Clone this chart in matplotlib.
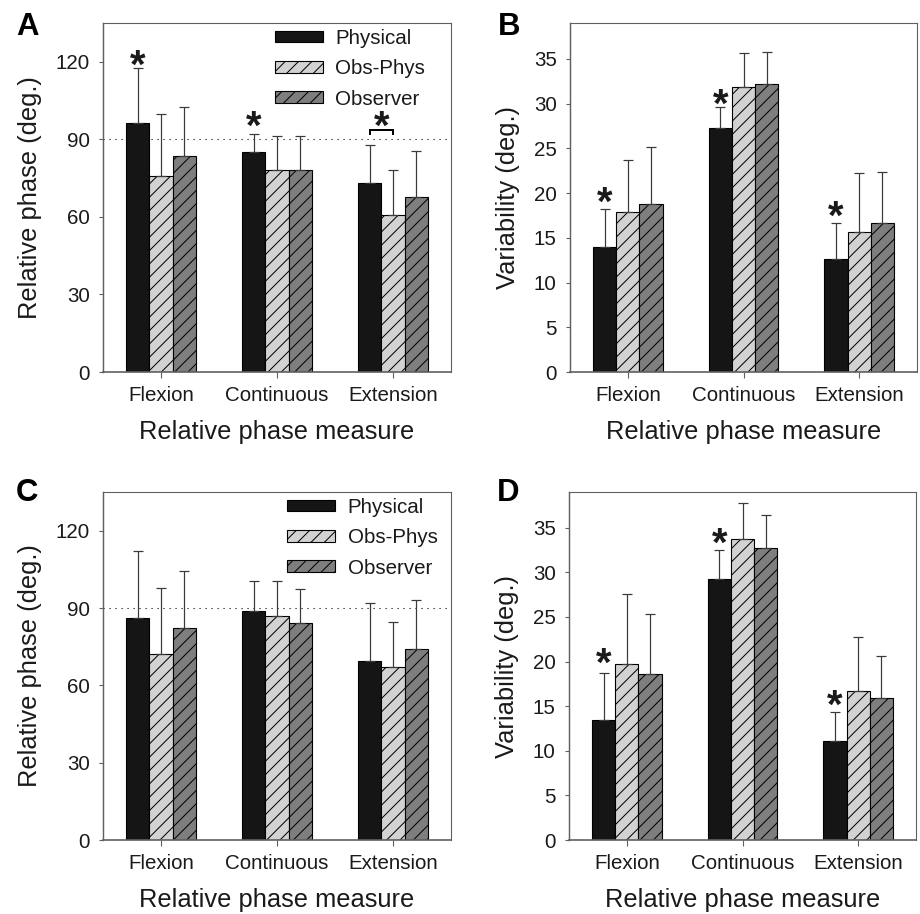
import numpy as np
import matplotlib
matplotlib.use("Agg")
from matplotlib import pyplot as plt

plt.rcParams['font.family'] = ['Liberation Sans', 'DejaVu Sans']
plt.rcParams['hatch.linewidth'] = 0.9

# data
measures = ['Flexion', 'Continuous', 'Extension']
groups   = ['Physical', 'Obs-Phys', 'Observer']

# panel A : relative phase
A_mean = [[96.2, 85.0, 73.2], [75.8, 78.1, 60.8], [83.6, 78.1, 67.6]]
A_top  = [[117.4, 92.2, 88.0], [99.7, 91.1, 78.3], [102.4, 91.1, 85.4]]
# panel B : variability
B_mean = [[14.0, 27.3, 12.6], [17.9, 31.9, 15.7], [18.8, 32.2, 16.6]]
B_top  = [[18.2, 29.6, 16.7], [23.7, 35.7, 22.2], [25.1, 35.8, 22.4]]
# panel C : relative phase
C_mean = [[86.2, 88.9, 69.3], [72.3, 87.0, 67.1], [82.3, 84.3, 74.2]]
C_top  = [[112.3, 100.5, 91.9], [97.7, 100.4, 84.5], [104.4, 97.5, 93.2]]
# panel D : variability
D_mean = [[13.5, 29.3, 11.1], [19.7, 33.7, 16.7], [18.6, 32.7, 15.9]]
D_top  = [[18.7, 32.5, 14.4], [27.6, 37.8, 22.7], [25.3, 36.4, 20.6]]

# significance stars: (x, y)
A_stars = [(-0.2, 121.9), (0.8, 98.3), (1.9, 98.3)]
A_bracket = (1.8, 2.0, 93.7, 92.1)
B_stars = [(-0.2, 19.8), (0.8, 30.8), (1.8, 18.3)]
D_stars = [(-0.2, 20.7), (0.8, 34.1), (1.8, 16.0)]

phase_ticks = [0, 30, 60, 90, 120]
var_ticks   = [0, 5, 10, 15, 20, 25, 30, 35]

faces   = ['#151515', '#d2d2d2', '#7e7e7e']
hatches = [None, '//', '//']
txt = '#1a1a1a'
spine = '#606060'

W, H = 920, 914
DPI = 80
fig = plt.figure(figsize=(W / DPI, H / DPI), dpi=DPI)


def panel(rect, means, tops, ylim, yticks, ylabel, letter, letter_xy,
          stars=(), bracket=None, legend_x=None, refline=False):
    l, b, r, t = rect
    ax = fig.add_axes([l / W, 1 - b / H, (r - l) / W, (b - t) / H])
    x = np.arange(len(measures))
    for i in range(3):
        xs = x + (i - 1) * 0.2
        m = np.array(means[i])
        up = np.array(tops[i]) - m
        ax.bar(xs, m, 0.2, color=faces[i], edgecolor='black', linewidth=1.0,
               hatch=hatches[i], label=groups[i], zorder=2)
        ax.errorbar(xs, m, yerr=[np.zeros_like(m), up], fmt='none',
                    ecolor='#3a3a3a', elinewidth=1.1, capsize=4.8,
                    capthick=1.1, zorder=3)
    if refline:
        ax.axhline(90, color='black', lw=1.0, ls=(0, (1, 4.4)), zorder=1)
    for sx, sy in stars:
        ax.annotate('*', (sx, sy), xytext=(0, -8.5), textcoords='offset points',
                    ha='center', va='center', fontsize=36,
                    fontweight='bold', color=txt)
    if bracket is not None:
        x0, x1, yb, yt = bracket
        ax.plot([x0, x0, x1, x1], [yt, yb, yb, yt], color='black', lw=1.8,
                solid_joinstyle='miter')
    ax.set_xlim(-0.5, 2.5)
    ax.set_ylim(*ylim)
    ax.set_yticks(yticks)
    ax.set_xticks(x)
    ax.set_xticklabels(measures)
    ax.tick_params(axis='y', direction='out', length=4, width=1, color=spine,
                   pad=8, labelsize=18.5, labelcolor=txt)
    ax.tick_params(axis='x', direction='out', length=5, width=1, color=spine,
                   pad=8, labelsize=18.5, labelcolor=txt)
    for s in ax.spines.values():
        s.set_color(spine)
        s.set_linewidth(1.0)
    ax.spines['bottom'].set_linewidth(1.5)
    ax.spines['left'].set_linewidth(1.3)
    ax.set_xlabel('Relative phase measure', fontsize=23, color=txt, labelpad=13)
    ax.set_ylabel(ylabel, fontsize=23, color=txt, labelpad=12.5)
    if legend_x is not None:
        ax.legend(loc='upper left', bbox_to_anchor=(legend_x, 0.983),
                  frameon=False, fontsize=18.5, handlelength=2.33,
                  handleheight=0.49, handletextpad=0.6, labelspacing=0.55,
                  borderpad=0, borderaxespad=0, labelcolor=txt)
    fig.text(letter_xy[0] / W, 1 - letter_xy[1] / H, letter, fontsize=28,
             fontweight='bold', ha='center', va='center', color='black')
    return ax


panel((103, 372, 451, 23), A_mean, A_top, (0, 135), phase_ticks,
      'Relative phase (deg.)', 'A', (27, 27), stars=A_stars,
      bracket=A_bracket, legend_x=0.494, refline=True)
panel((570, 372, 917, 23), B_mean, B_top, (0, 39), var_ticks,
      'Variability (deg.)', 'B', (509, 27), stars=B_stars)
panel((103, 840, 451, 492), C_mean, C_top, (0, 135), phase_ticks,
      'Relative phase (deg.)', 'C', (27, 493), legend_x=0.53, refline=True)
panel((569, 840, 916, 492), D_mean, D_top, (0, 39), var_ticks,
      'Variability (deg.)', 'D', (508, 493), stars=D_stars)

fig.savefig('out.png', dpi=DPI, facecolor='white')
